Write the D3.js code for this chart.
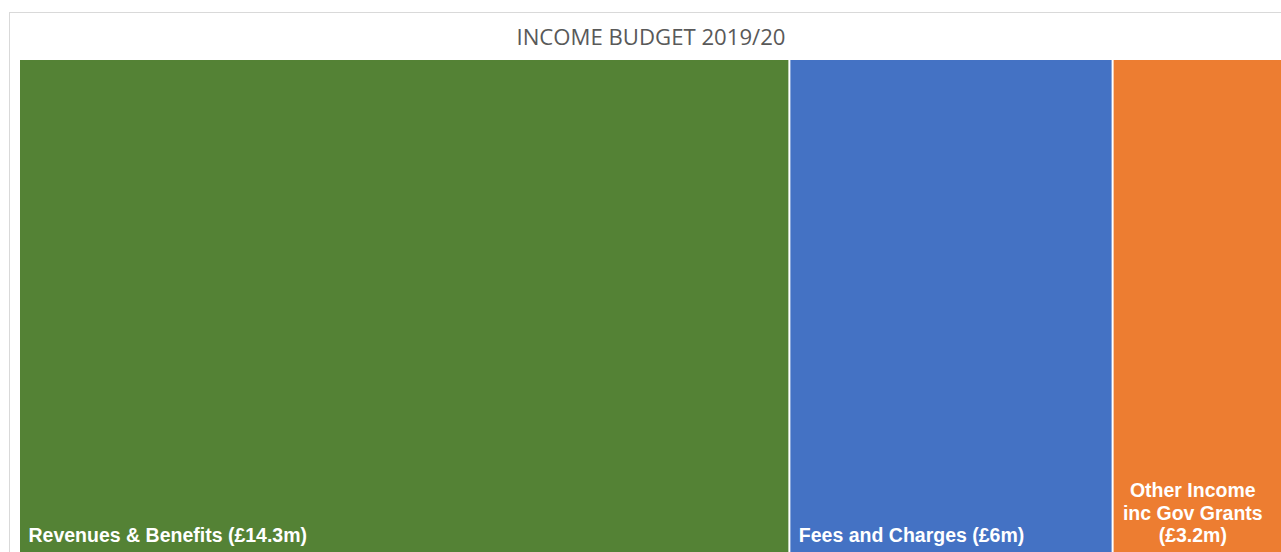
<!DOCTYPE html>
<html><head><meta charset="utf-8">
<script src="https://cdn.jsdelivr.net/npm/d3@7"></script>
<style>html,body{margin:0;padding:0;background:#fff;overflow:hidden}</style>
</head><body>
<svg id="chart" width="1281" height="552"></svg>
<script>
const title = "INCOME BUDGET 2019/20";
const categories = ["Revenues & Benefits", "Fees and Charges", "Other Income inc Gov Grants"];
const values = [14.3, 6, 3.2];
const labelLines = [["Revenues & Benefits (£14.3m)"], ["Fees and Charges (£6m)"], ["Other Income", "inc Gov Grants", "(£3.2m)"]];
const colors = ["#548235", "#4472C4", "#ED7D31"];

const svg = d3.select("#chart");
svg.append("rect").attr("x", 9.5).attr("y", 12.5).attr("width", 1300).attr("height", 600)
  .attr("fill", "#fff").attr("stroke", "#d9d9d9").attr("stroke-width", 1);

svg.append("text").attr("x", 651).attr("y", 45).attr("text-anchor", "middle")
  .attr("font-family", "Open Sans, sans-serif").attr("font-size", 21).attr("fill", "#595959")
  .attr("textLength", 269).attr("lengthAdjust", "spacingAndGlyphs")
  .text(title);

const root = d3.hierarchy({children: categories.map((c, i) => ({name: c, value: values[i], i}))})
  .sum(d => d.value || 0);
d3.treemap().tile(d3.treemapDice).size([1264, 494]).paddingInner(2)(root);

const g = svg.append("g").attr("transform", "translate(20,60)");
const leaves = g.selectAll("g.leaf").data(root.leaves()).join("g").attr("class", "leaf");
leaves.append("rect")
  .attr("x", d => d.x0).attr("y", d => d.y0)
  .attr("width", d => d.x1 - d.x0).attr("height", d => d.y1 - d.y0)
  .attr("fill", d => colors[d.data.i]);

leaves.each(function(d) {
  const lines = labelLines[d.data.i];
  const multi = lines.length > 1;
  const t = d3.select(this).append("text")
    .attr("font-family", "Liberation Sans, Arial, sans-serif").attr("font-weight", "bold")
    .attr("font-size", 19.5).attr("fill", "#fff")
    .attr("text-anchor", multi ? "middle" : "start");
  const x = multi ? (d.x0 + d.x1) / 2 - 6 : d.x0 + 8.5;
  const baseBottom = 482;
  lines.forEach((ln, k) => {
    t.append("tspan").attr("x", x).attr("y", baseBottom - (lines.length - 1 - k) * 22.5).text(ln);
  });
});
</script>
</body></html>
